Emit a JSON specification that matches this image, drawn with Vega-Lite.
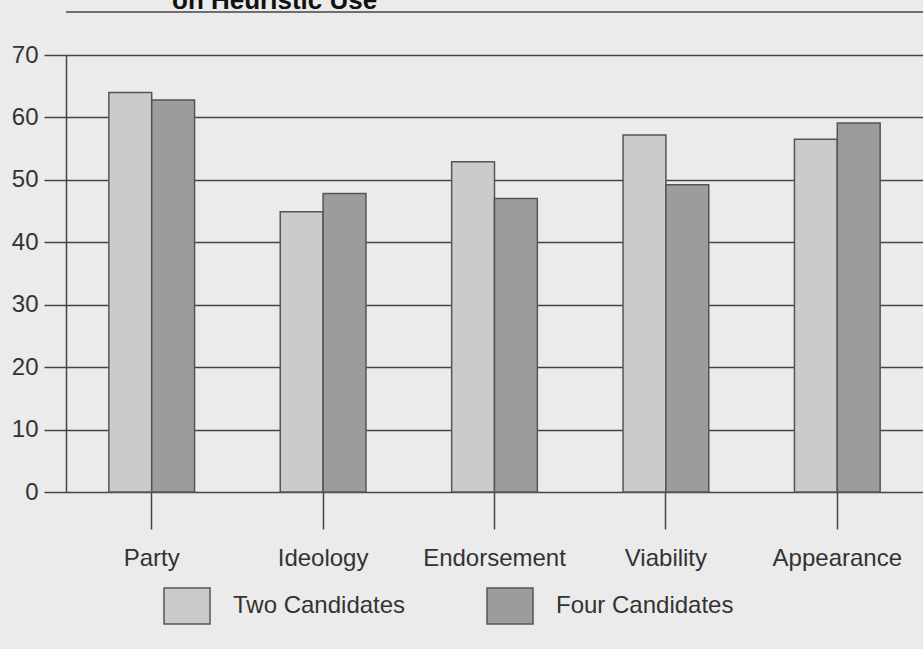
{
  "$schema": "https://vega.github.io/schema/vega-lite/v6.json",
  "width": 857,
  "height": 437,
  "autosize": {"type": "none"},
  "padding": {"left": 66, "top": 55, "right": 0, "bottom": 157},
  "background": "#ebebeb",
  "config": {"view": {"stroke": null}, "font": "Liberation Sans"},
  "title": {
    "text": "on Heuristic Use",
    "font": "Liberation Sans",
    "fontWeight": "bold",
    "fontSize": 26,
    "color": "#111111",
    "anchor": "start",
    "frame": "group",
    "dx": 106,
    "dy": 24,
    "offset": 0,
    "baseline": "alphabetic"
  },
  "data": {
    "values": [
      {"category": "Party", "group": "Two Candidates", "value": 64.0},
      {"category": "Party", "group": "Four Candidates", "value": 62.8},
      {"category": "Ideology", "group": "Two Candidates", "value": 44.9},
      {"category": "Ideology", "group": "Four Candidates", "value": 47.8},
      {"category": "Endorsement", "group": "Two Candidates", "value": 52.9},
      {"category": "Endorsement", "group": "Four Candidates", "value": 47.0},
      {"category": "Viability", "group": "Two Candidates", "value": 57.2},
      {"category": "Viability", "group": "Four Candidates", "value": 49.2},
      {"category": "Appearance", "group": "Two Candidates", "value": 56.5},
      {"category": "Appearance", "group": "Four Candidates", "value": 59.1}
    ]
  },
  "layer": [
    {
      "data": {"values": [{"line": 76.9}]},
      "mark": {"type": "rule", "clip": false, "color": "#444444", "strokeWidth": 1.5},
      "encoding": {"y": {"field": "line", "type": "quantitative"}}
    },
    {
      "mark": {"type": "bar", "stroke": "#555555", "strokeWidth": 1.5},
      "encoding": {
        "x": {
          "field": "category",
          "type": "nominal",
          "sort": ["Party", "Ideology", "Endorsement", "Viability", "Appearance"],
          "scale": {"paddingInner": 0.5, "paddingOuter": 0.25},
          "axis": {
            "title": null,
            "labelAngle": 0,
            "domain": false,
            "ticks": true,
            "tickSize": 37,
            "tickColor": "#444444",
            "tickWidth": 1.5,
            "labelFontSize": 24,
            "labelColor": "#333333",
            "labelPadding": 17
          }
        },
        "y": {
          "field": "value",
          "type": "quantitative",
          "scale": {"domain": [0, 70], "nice": false},
          "axis": {
            "title": null,
            "values": [0, 10, 20, 30, 40, 50, 60, 70],
            "tickSize": 22,
            "tickColor": "#444444",
            "tickWidth": 1.5,
            "grid": true,
            "gridColor": "#444444",
            "gridWidth": 1.5,
            "gridOpacity": 1,
            "domainColor": "#444444",
            "domainWidth": 1.5,
            "labelFontSize": 24,
            "labelColor": "#333333",
            "labelPadding": 6
          }
        },
        "xOffset": {"field": "group", "sort": ["Two Candidates", "Four Candidates"]},
        "color": {
          "field": "group",
          "type": "nominal",
          "scale": {"domain": ["Two Candidates", "Four Candidates"], "range": ["#cbcbcb", "#9c9c9c"]},
          "legend": {
            "title": null,
            "orient": "none",
            "legendX": 97,
            "legendY": 527,
            "direction": "horizontal",
            "padding": 0,
            "symbolType": "M-1,-0.78H1V0.78H-1Z",
            "symbolSize": 2116,
            "symbolStrokeColor": "#555555",
            "symbolStrokeWidth": 1.5,
            "symbolOpacity": 1,
            "labelFontSize": 24,
            "labelLimit": 400,
            "labelColor": "#333333",
            "labelOffset": 22,
            "columnPadding": 78
          }
        }
      }
    }
  ]
}
